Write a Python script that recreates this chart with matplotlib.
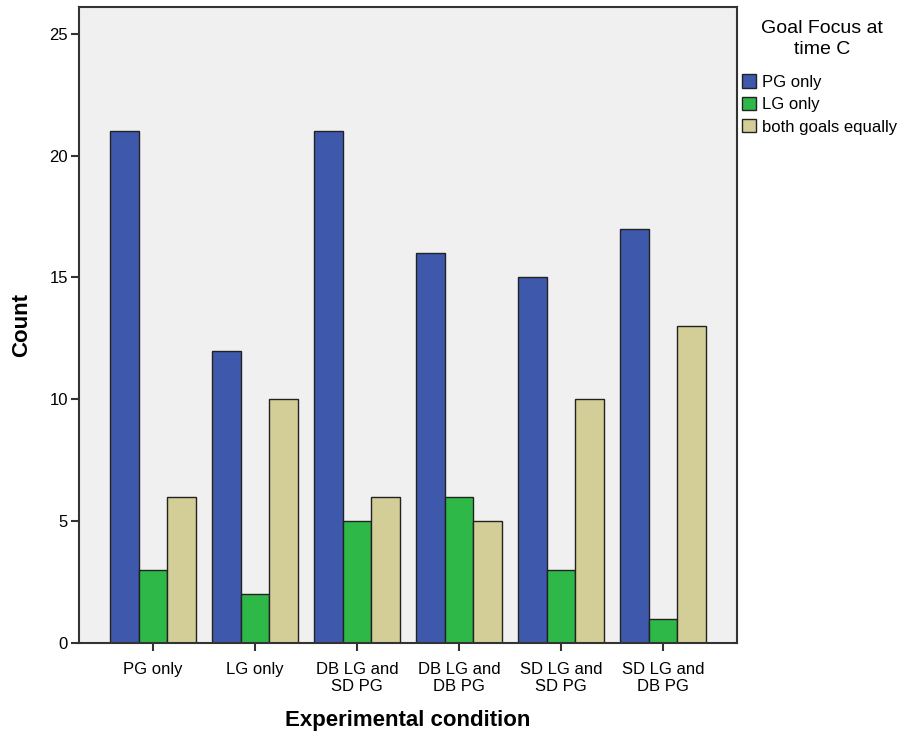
import numpy as np
import matplotlib.pyplot as plt
from matplotlib.patches import Patch

plt.rcParams['font.family'] = ['Liberation Sans', 'DejaVu Sans']

conditions = ["PG only", "LG only", "DB LG and\nSD PG", "DB LG and\nDB PG",
              "SD LG and\nSD PG", "SD LG and\nDB PG"]
pg_only = [21, 12, 21, 16, 15, 17]
lg_only = [3, 2, 5, 6, 3, 1]
both_equal = [6, 10, 6, 5, 10, 13]
series_names = ["PG only", "LG only", "both goals equally"]
colors = ["#3e58ac", "#2eb848", "#d3ce97"]

fig = plt.figure(figsize=(9.03, 7.36), dpi=100)
ax = fig.add_axes([0.0875, 0.1264, 0.7287, 0.8641])
ax.set_facecolor("#f0f0f0")

x = np.arange(len(conditions))
w = 0.28
for i, vals in enumerate([pg_only, lg_only, both_equal]):
    ax.bar(x + (i - 1) * w, vals, width=w, color=colors[i],
           edgecolor="#222222", linewidth=1.0, zorder=2)

ax.set_xlim(-0.725, len(conditions) - 1 + 0.725)
ax.set_ylim(0, 26.1)
ax.set_yticks([0, 5, 10, 15, 20, 25])
ax.set_xticks(x)
ax.set_xticklabels(conditions, fontsize=12, linespacing=1.1)
ax.tick_params(axis="y", labelsize=12, length=6, width=1.5, color="#333333", pad=2)
ax.tick_params(axis="x", length=6, width=1.5, color="#333333", pad=8)
for s in ax.spines.values():
    s.set_color("#333333")
    s.set_linewidth(1.5)

ax.set_ylabel("Count", fontsize=16, fontweight="bold", labelpad=12)
ax.set_xlabel("Experimental condition", fontsize=16, fontweight="bold", labelpad=12)

# legend title drawn separately so it can sit centred above the entries
fig.text(822 / 903, 1 - 39 / 736, "Goal Focus at\ntime C", fontsize=14,
         ha="center", va="center", linespacing=1.3)
handles = [Patch(facecolor=c, edgecolor="#222222", linewidth=1.0) for c in colors]
fig.legend(handles, series_names, loc="upper left",
           bbox_to_anchor=(739 / 903, 1 - 71 / 736), frameon=False, fontsize=12,
           handlelength=0.85, handleheight=0.85, handletextpad=0.35,
           labelspacing=0.42, borderaxespad=0, borderpad=0.2)

fig.savefig("out.png", dpi=100)
